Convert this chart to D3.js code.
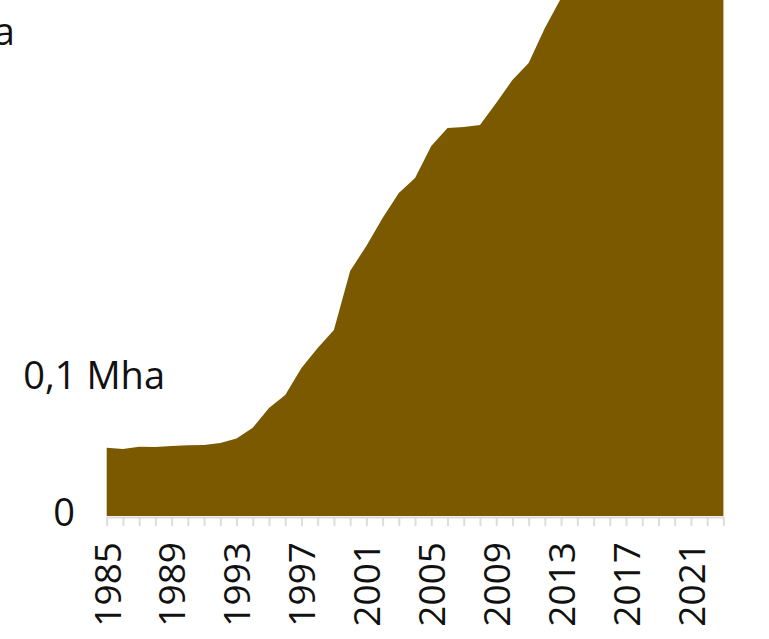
<!DOCTYPE html>
<html>
<head>
<meta charset="utf-8">
<script src="https://cdn.jsdelivr.net/npm/d3@7"></script>
<style>
  html, body { margin: 0; padding: 0; background: #ffffff; }
  svg { display: block; }
  text { font-family: "Open Sans", "Noto Sans", sans-serif; fill: #111111; }
</style>
</head>
<body>
<svg id="chart" width="769" height="639"></svg>
<script>
// Annual area, 1985–2023 (million hectares)
const years = [1985, 1986, 1987, 1988, 1989, 1990, 1991, 1992, 1993, 1994,
               1995, 1996, 1997, 1998, 1999, 2000, 2001, 2002, 2003, 2004,
               2005, 2006, 2007, 2008, 2009, 2010, 2011, 2012, 2013, 2014,
               2015, 2016, 2017, 2018, 2019, 2020, 2021, 2022, 2023];
const areaMha = [0.0488, 0.0479, 0.0495, 0.0493, 0.0500, 0.0505, 0.0507, 0.0521, 0.0553, 0.0630,
                 0.0771, 0.0864, 0.1057, 0.1200, 0.1329, 0.1750, 0.1929, 0.2129, 0.2307, 0.2414,
                 0.2643, 0.2771, 0.2779, 0.2793, 0.2950, 0.3114, 0.3236, 0.3486, 0.3700, 0.3900,
                 0.4050, 0.4200, 0.4300, 0.4400, 0.4550, 0.4700, 0.4850, 0.5000, 0.5100];

// Axis labelling
const xTickLabels = ["1985", "1989", "1993", "1997", "2001", "2005", "2009", "2013", "2017", "2021"];
const yTickValues = [0, 0.1, 0.35];
const yTickLabels = ["0", "0,1 Mha", "0,35 Mha"];

const svg = d3.select("#chart");

const x = d3.scaleLinear().domain([1985, 2023]).range([106.7, 723.4]);
const y = d3.scaleLinear().domain([0, 0.1]).range([516, 376]);

const data = years.map((yr, i) => ({ year: yr, value: areaMha[i] }));

// x axis: a tick every year, a label every fourth year
const xAxis = d3.axisBottom(x)
  .tickValues(years)
  .tickSize(9)
  .tickSizeOuter(0)
  .tickFormat(d => xTickLabels.includes(String(d)) ? String(d) : "");

const gx = svg.append("g")
  .attr("transform", "translate(0,517)")
  .call(xAxis);

gx.select(".domain").attr("stroke", "#dcdcdc").attr("stroke-width", 2);
gx.selectAll(".tick line").attr("stroke", "#dcdcdc").attr("stroke-width", 2);
gx.selectAll(".tick text")
  .attr("font-family", "'Open Sans', 'Noto Sans', sans-serif")
  .attr("font-size", 37)
  .attr("fill", "#111111")
  .attr("text-anchor", "end")
  .attr("transform", "rotate(-90)")
  .attr("x", -25)
  .attr("y", 0)
  .attr("dy", "0.36em");

// filled area
const area = d3.area()
  .x(d => x(d.year))
  .y0(y(0))
  .y1(d => y(d.value));

svg.append("path")
  .datum(data)
  .attr("d", area)
  .attr("fill", "#7a5901");

// y labels
const yLabelRight = [75, 165, 15];
const yLabelShift = [-3, 0, 6];
svg.append("g")
  .selectAll("text")
  .data(yTickValues)
  .join("text")
  .attr("x", (d, i) => yLabelRight[i])
  .attr("y", (d, i) => y(d) + yLabelShift[i])
  .attr("dy", "0.35em")
  .attr("text-anchor", "end")
  .attr("font-size", 38)
  .text((d, i) => yTickLabels[i]);
</script>
</body>
</html>
